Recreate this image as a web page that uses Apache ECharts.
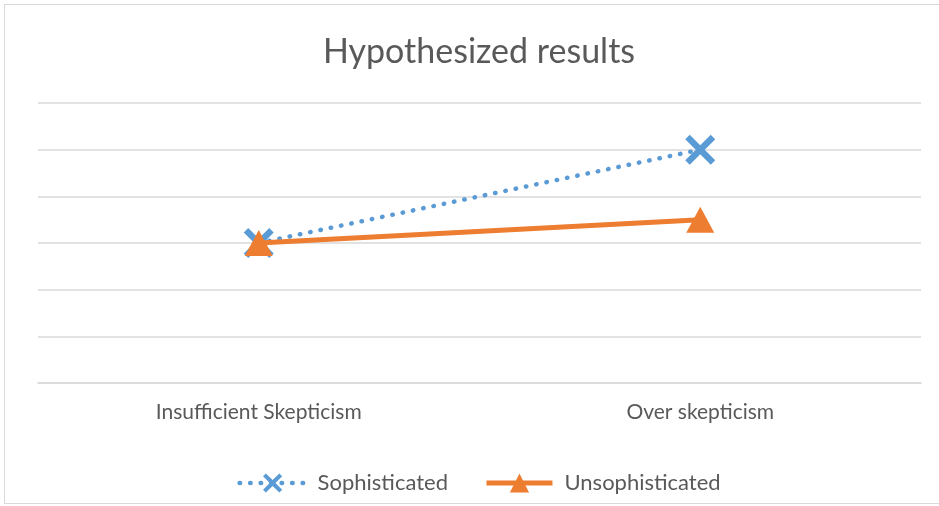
<!DOCTYPE html>
<html>
<head>
<meta charset="utf-8">
<script src="https://cdn.jsdelivr.net/npm/echarts@6/dist/echarts.min.js"></script>
<style>
    html, body { margin: 0; padding: 0; background: #fff; overflow: hidden; }
    #main { position: absolute; left: 4px; top: 4px; width: 948px; height: 498px; border: 1px solid #d9d9d9; }
</style>
</head>
<body>
<div id="main"></div>
<script>
// 数据
var categories = ['Insufficient Skepticism', 'Over skepticism'];
var sophisticated = [3, 5];
var unsophisticated = [3, 3.5];

// X形标记
var crossPath = 'path://M3,0 L10,7 L17,0 L20,3 L13,10 L20,17 L17,20 L10,13 L3,20 L0,17 L7,10 L0,3 Z';

var myChart = echarts.init(document.getElementById('main'));
var option = {
    title: {
        text: 'Hypothesized results',
        left: 'center',
        top: 25,
        textStyle: {
            fontFamily: 'Lato',
            fontWeight: 'normal',
            fontSize: 34,
            color: '#595959'
        }
    },
    legend: {
        bottom: 4,
        itemWidth: 66,
        itemHeight: 24,
        itemGap: 36,
        textStyle: { fontFamily: 'Lato', fontSize: 22, color: '#595959', padding: [0, 0, 0, 7] },
        data: [
            { name: 'Sophisticated', lineStyle: { width: 4.5 } },
            { name: 'Unsophisticated', lineStyle: { width: 5 } }
        ]
    },
    grid: {
        left: 33,
        right: 32,
        top: 98,
        bottom: 120
    },
    xAxis: {
        type: 'category',
        data: categories,
        boundaryGap: true,
        axisTick: { show: false },
        axisLine: { lineStyle: { color: '#d9d9d9', width: 1.5 } },
        axisLabel: { fontFamily: 'Lato', fontSize: 21, color: '#595959', margin: 19 }
    },
    yAxis: {
        type: 'value',
        min: 0,
        max: 6,
        interval: 1,
        axisLabel: { show: false },
        axisLine: { show: false },
        axisTick: { show: false },
        splitLine: { lineStyle: { color: '#d9d9d9', width: 1.5 } }
    },
    series: [
        {
            name: 'Sophisticated',
            type: 'line',
            data: sophisticated,
            symbol: crossPath,
            symbolSize: 30,
            itemStyle: { color: '#5B9BD5' },
            lineStyle: { color: '#5B9BD5', width: 4.5, type: [0.5, 10], cap: 'round' },
            z: 2
        },
        {
            name: 'Unsophisticated',
            type: 'line',
            data: unsophisticated,
            symbol: 'triangle',
            symbolSize: [28, 26],
            itemStyle: { color: '#ED7D31' },
            lineStyle: { color: '#ED7D31', width: 5 },
            z: 3
        }
    ]
};
myChart.setOption(option);
</script>
</body>
</html>
